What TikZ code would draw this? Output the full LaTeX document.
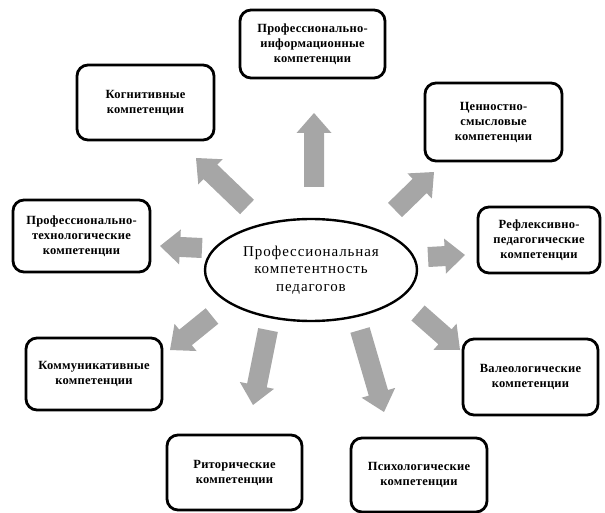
\documentclass[tikz,border=0pt]{standalone}
\usepackage{fontspec}
\setmainfont{Liberation Serif}
\usetikzlibrary{calc}
\definecolor{arrgray}{HTML}{A6A6A6}
\tikzset{
  compbox/.style={draw=black, line width=2.8pt, rounded corners=11pt, fill=white,
    align=center, font=\bfseries\fontsize{12.5}{15}\selectfont\addfontfeature{LetterSpace=2},
    inner sep=0pt},
  coretext/.style={align=center,
    font=\fontsize{15}{17.5}\selectfont\addfontfeature{LetterSpace=6}},
}
\newcommand{\blockarr}[2]{%
  \fill[arrgray]
    ($(#1)!10pt!90:(#2)$) --
    ($($(#2)!20pt!(#1)$)!10pt!-90:(#1)$) --
    ($($(#2)!20pt!(#1)$)!17.5pt!-90:(#1)$) --
    (#2) --
    ($($(#2)!20pt!(#1)$)!17.5pt!90:(#1)$) --
    ($($(#2)!20pt!(#1)$)!10pt!90:(#1)$) --
    ($(#1)!10pt!-90:(#2)$) -- cycle;}
\begin{document}
\begin{tikzpicture}[x=1pt,y=-1pt]
\useasboundingbox (0,0) rectangle (605,513);
% central ellipse
\draw[line width=2.4pt] (311,270) ellipse [x radius=106, y radius=51];
\node[coretext] (core) at (311,270)
  {Профессиональная\\компетентность\\педагогов};
% boxes
\node[compbox, minimum width=145pt, minimum height=68pt] (info) at (312.5,44)
  {Профессионально-\\информационные\\компетенции};
\node[compbox, minimum width=137pt, minimum height=75pt] (cogn) at (145.5,102.5)
  {Когнитивные\\компетенции};
\node[compbox, minimum width=137pt, minimum height=78pt] (value) at (493.5,122)
  {Ценностно-\\смысловые\\компетенции};
\node[compbox, minimum width=137pt, minimum height=72pt] (tech) at (81.5,236)
  {Профессионально-\\технологические\\компетенции};
\node[compbox, minimum width=122pt, minimum height=66pt] (refl) at (539,240)
  {Рефлексивно-\\педагогические\\компетенции};
\node[compbox, minimum width=136pt, minimum height=72pt] (comm) at (94,374)
  {Коммуникативные\\компетенции};
\node[compbox, minimum width=135pt, minimum height=76pt] (valeo) at (530.5,377)
  {Валеологические\\компетенции};
\node[compbox, minimum width=135pt, minimum height=75pt] (rhet) at (234.5,472.5)
  {Риторические\\компетенции};
\node[compbox, minimum width=136pt, minimum height=74pt] (psy) at (419,475)
  {Психологические\\компетенции};
% arrow coordinates
\coordinate (a1t) at (314,187); \coordinate (a1h) at (314,113);
\coordinate (a2t) at (247,207); \coordinate (a2h) at (196,158);
\coordinate (a3t) at (395,210); \coordinate (a3h) at (434,172);
\coordinate (a4t) at (428,257); \coordinate (a4h) at (465,255);
\coordinate (a5t) at (202,248); \coordinate (a5h) at (160,246);
\coordinate (a6t) at (212,316); \coordinate (a6h) at (170,350);
\coordinate (a7t) at (268,330); \coordinate (a7h) at (253,405);
\coordinate (a8t) at (360,330); \coordinate (a8h) at (384,412);
\coordinate (a9t) at (418,313); \coordinate (a9h) at (460,350);
\blockarr{a1t}{a1h}
\blockarr{a2t}{a2h}
\blockarr{a3t}{a3h}
\blockarr{a4t}{a4h}
\blockarr{a5t}{a5h}
\blockarr{a6t}{a6h}
\blockarr{a7t}{a7h}
\blockarr{a8t}{a8h}
\blockarr{a9t}{a9h}
\end{tikzpicture}
\end{document}
